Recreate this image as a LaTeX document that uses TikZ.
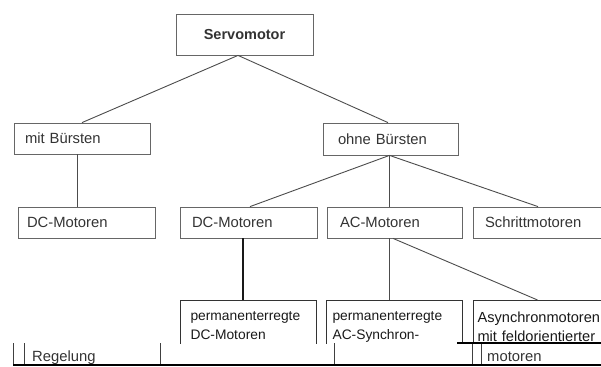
\documentclass[tikz,border=0pt]{standalone}
\usepackage{fontspec}
\setmainfont{Liberation Sans}
\begin{document}
\begin{tikzpicture}[x=1pt,y=-1pt,
  every node/.style={font=\fontsize{14.8}{19}\selectfont, text=black!80},
  box/.style={draw=black!60, line width=0.8pt, align=left, text height=10.6pt, text depth=0pt, inner ysep=0pt, minimum height=31pt},
  pbox/.style={draw=black!80, line width=1.1pt, align=left, anchor=north west, inner ysep=11pt, text=black!90, font=\fontsize{13.8}{19}\selectfont},
  conn/.style={draw=black!70, line width=0.9pt},
  darkconn/.style={draw=black!90, line width=1.4pt},
  cut/.style={draw=black!75, line width=0.9pt},
  cutline/.style={draw=black, line width=1.6pt}]
\useasboundingbox (0,0) rectangle (601,366);
\begin{scope}
\clip (0,0) rectangle (601,343);
% level 0
\node[box, minimum height=41pt, text width=137pt, inner xsep=0pt, align=center, font=\fontsize{14.5}{17}\selectfont\bfseries] (servo) at (244.5,34.5) {Servomotor};
% level 1
\node[box, text width=114pt, inner xsep=11pt] (mitB) at (82,138.5) {mit Bürsten};
\node[box, minimum height=32pt, text width=105pt, inner xsep=15pt] (ohneB) at (390.5,139) {ohne Bürsten};
% level 2
\node[box, text width=119pt, inner xsep=9pt] (dcL) at (86.5,222.5) {DC-Motoren};
\node[box, text width=113pt, inner xsep=12pt] (dcM) at (248.5,222.5) {DC-Motoren};
\node[box, text width=109pt, inner xsep=13pt] (ac) at (394.5,222.5) {AC-Motoren};
\node[box, text width=112pt, inner xsep=12pt] (schritt) at (541,222.5) {Schrittmotoren};
% level 3
\node[pbox, text width=116pt, inner xsep=10pt] (permDC) at (180,300) {permanenterregte\\DC-Motoren};
\node[pbox, text width=124pt, inner xsep=6pt] (permAC) at (326,300) {permanenterregte\\AC-Synchron-};
\node[pbox, text width=132pt, inner xsep=4pt, font=\fontsize{14.6}{19}\selectfont] (async) at (473,300) {Asynchronmotoren\\mit feldorientierter};
% connectors
\draw[conn] ([xshift=-6.5pt]servo.south) -- (mitB.north);
\draw[conn] ([xshift=-6.5pt]servo.south) -- ([xshift=-2.5pt]ohneB.north);
\draw[conn] ([xshift=-5pt]mitB.south) -- ([xshift=-5pt]mitB.south |- dcL.north);
\draw[conn] ([xshift=-1pt]ohneB.south) -- ([xshift=1.5pt]dcM.north);
\draw[conn] ([xshift=-1.5pt]ohneB.south) -- ([xshift=-1.5pt]ohneB.south |- ac.north);
\draw[conn] ([xshift=-1pt]ohneB.south) -- ([xshift=-3pt]schritt.north);
\draw[darkconn] ([xshift=-5.5pt]dcM.south) -- ([xshift=-5.5pt]dcM.south |- permDC.north);
\draw[conn] ([xshift=-5.5pt]ac.south) -- ([xshift=-5.5pt]ac.south |- permAC.north);
\draw[conn] ([xshift=-1.5pt]ac.south) -- ([xshift=-6pt]async.north);
\end{scope}
% lower strip (cut-off part)
\coordinate (c1) at (13,343);
\coordinate (c2) at (24,343);
\coordinate (c3) at (160,343);
\coordinate (c4) at (334,343);
\coordinate (c5) at (472,343);
\coordinate (c6) at (481,343);
\coordinate (b0) at (13,365);
\coordinate (b1) at (601,365);
\coordinate (h0) at (457,343);
\coordinate (h1) at (601,343);
\foreach \c in {c1,c2,c3,c4,c5,c6} \draw[cut] (\c) -- (\c |- b0);
\draw[cutline] (h0) -- (h1);
\draw[cutline] (b0) -- (b1);
\node[anchor=base west, inner sep=0pt] (regelung) at (32,361.5) {Regelung};
\node[anchor=base west, inner sep=0pt] (motoren) at (487,361) {motoren};
\end{tikzpicture}
\end{document}
